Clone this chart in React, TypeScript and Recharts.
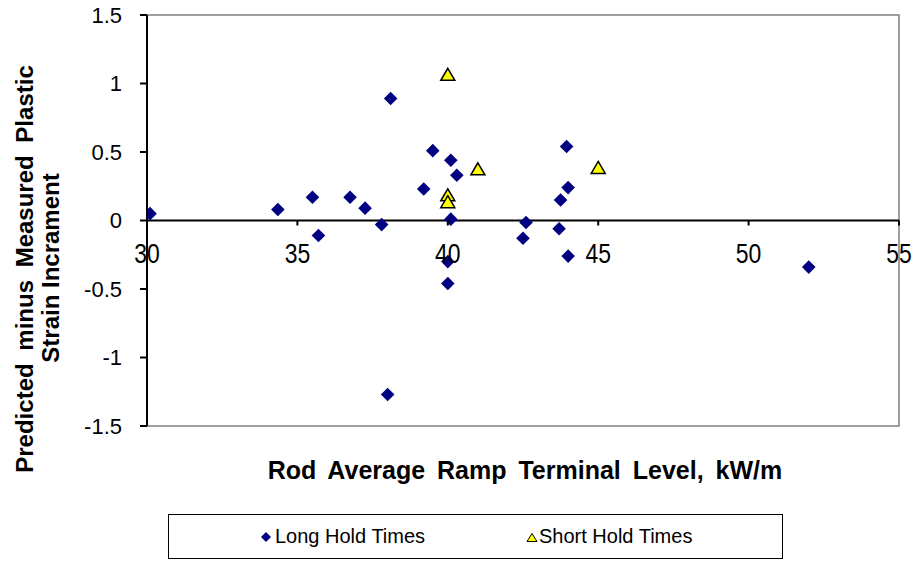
import {
  ScatterChart,
  Scatter,
  XAxis,
  YAxis,
  ReferenceLine,
  ReferenceArea,
} from "recharts";

// Long hold times (diamonds)
const longHoldLevel = [
  30.1, 34.35, 35.5, 35.7, 36.75, 37.25, 37.8, 38.1, 38.0, 39.2, 39.5, 40.1,
  40.3, 40.1, 40.0, 40.0, 42.5, 42.6, 43.7, 43.75, 43.95, 44.0, 44.0, 52.0,
];
const longHoldDiff = [
  0.05, 0.08, 0.17, -0.11, 0.17, 0.09, -0.03, 0.89, -1.27, 0.23, 0.51, 0.44,
  0.33, 0.01, -0.3, -0.46, -0.13, -0.015, -0.06, 0.15, 0.54, 0.24, -0.26, -0.34,
];

// Short hold times (triangles)
const shortHoldLevel = [40.0, 40.0, 40.0, 41.0, 45.0];
const shortHoldDiff = [1.06, 0.18, 0.13, 0.37, 0.38];

const xTicks = [30, 35, 40, 45, 50, 55];
const yTicks = [-1.5, -1, -0.5, 0, 0.5, 1, 1.5];

const longHold = longHoldLevel.map((x, i) => ({ x, y: longHoldDiff[i] }));
const shortHold = shortHoldLevel.map((x, i) => ({ x, y: shortHoldDiff[i] }));

const W = 913;
const H = 565;
const M = { top: 15, right: 14, bottom: 130, left: 127 };
const Y_AXIS_W = 20;
const X_AXIS_H = 9;
const PLOT_H = H - M.top - M.bottom - X_AXIS_H;
const ZERO_Y = M.top + PLOT_H / 2; // x axis crosses at y = 0
const FONT = "'Liberation Sans', Arial, sans-serif";

const Diamond = (props: any) => {
  const { cx, cy } = props;
  const r = 6.8;
  return (
    <polygon
      points={`${cx},${cy - r} ${cx + r},${cy} ${cx},${cy + r} ${cx - r},${cy}`}
      fill="#000080"
    />
  );
};

const Triangle = (props: any) => {
  const { cx, cy } = props;
  return (
    <polygon
      points={`${cx},${cy - 7} ${cx + 7},${cy + 5} ${cx - 7},${cy + 5}`}
      fill="#ffff00"
      stroke="#000"
      strokeWidth={1.5}
      strokeLinejoin="miter"
    />
  );
};

const XTick = (props: any) => {
  const { x, payload } = props;
  return (
    <g>
      {payload.value !== 30 && (
        <line x1={x} x2={x} y1={ZERO_Y} y2={ZERO_Y + 5} stroke="#000" strokeWidth={2} />
      )}
      <text
        transform={`translate(${x}, ${ZERO_Y + 42}) scale(0.82, 1)`}
        textAnchor="middle"
        fontFamily={FONT}
        fontSize={28}
        fill="#000"
      >
        {payload.value}
      </text>
    </g>
  );
};

const XTitle = () => (
  <text
    x={525}
    y={479}
    textAnchor="middle"
    fontFamily={FONT}
    fontSize={25}
    fontWeight="bold"
    wordSpacing={5}
    fill="#000"
  >
    Rod Average Ramp Terminal Level, kW/m
  </text>
);

const YTitle = () => (
  <g>
    <text
      transform="translate(33, 269) rotate(-90)"
      textAnchor="middle"
      fontFamily={FONT}
      fontSize={24}
      fontWeight="bold"
      wordSpacing={6}
      fill="#000"
    >
      Predicted minus Measured Plastic
    </text>
    <text
      transform="translate(59, 268) rotate(-90)"
      textAnchor="middle"
      fontFamily={FONT}
      fontSize={24}
      fontWeight="bold"
      fill="#000"
    >
      Strain Incrament
    </text>
  </g>
);

const legendText: React.CSSProperties = {
  position: "absolute",
  top: 524,
  fontFamily: FONT,
  fontSize: 20,
  lineHeight: "24px",
  color: "#000",
};

export default function App() {
  return (
    <div
      style={{
        position: "absolute",
        left: 0,
        top: 0,
        width: W,
        height: H,
        background: "#fff",
      }}
    >
      <ScatterChart width={W} height={H} margin={M}>
        <ReferenceArea
          x1={30}
          x2={55}
          y1={-1.5}
          y2={1.5}
          fill="none"
          stroke="#808080"
          strokeWidth={1.5}
          ifOverflow="visible"
        />
        <XAxis
          type="number"
          dataKey="x"
          domain={[30, 55]}
          ticks={xTicks}
          height={X_AXIS_H}
          axisLine={false}
          tickLine={false}
          tick={<XTick />}
          interval={0}
          allowDataOverflow
          label={{ content: () => <XTitle /> }}
        />
        <YAxis
          type="number"
          dataKey="y"
          domain={[-1.5, 1.5]}
          ticks={yTicks}
          width={Y_AXIS_W}
          interval={0}
          axisLine={{ stroke: "#000", strokeWidth: 2 }}
          tickLine={{ stroke: "#000", strokeWidth: 2 }}
          tickSize={7}
          tickMargin={18}
          tick={{ fontFamily: FONT, fontSize: 22, fill: "#000" }}
          allowDataOverflow
          label={{ content: () => <YTitle /> }}
        />
        <ReferenceLine y={0} stroke="#000" strokeWidth={2} ifOverflow="visible" />
        <Scatter
          name="Long Hold Times"
          data={longHold}
          shape={<Diamond />}
          isAnimationActive={false}
        />
        <Scatter
          name="Short Hold Times"
          data={shortHold}
          shape={<Triangle />}
          isAnimationActive={false}
        />
      </ScatterChart>
      <div
        style={{
          position: "absolute",
          left: 168,
          top: 514,
          width: 615,
          height: 45,
          border: "1.5px solid #000",
          boxSizing: "border-box",
        }}
      />
      <svg
        style={{ position: "absolute", left: 260, top: 531 }}
        width={12}
        height={12}
      >
        <polygon points="6,1 11,6 6,11 1,6" fill="#000080" />
      </svg>
      <span style={{ ...legendText, left: 275 }}>Long Hold Times</span>
      <svg
        style={{ position: "absolute", left: 526, top: 532 }}
        width={12}
        height={11}
      >
        <polygon points="6,1.5 11,9.5 1,9.5" fill="#ffff00" stroke="#000" strokeWidth={1} />
      </svg>
      <span style={{ ...legendText, left: 539 }}>Short Hold Times</span>
    </div>
  );
}
